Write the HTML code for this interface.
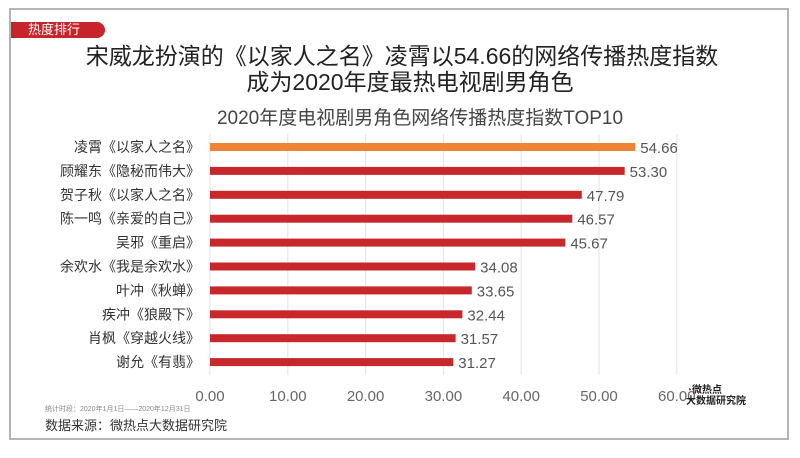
<!DOCTYPE html>
<html><head><meta charset="utf-8">
<style>
body{margin:0;background:#fff;font-family:"Liberation Sans","Noto Sans CJK SC",sans-serif;}
#wrap{position:relative;width:800px;height:458px;overflow:hidden;background:#fff;}
.t{position:absolute;white-space:nowrap;}
</style></head><body>
<div id="wrap">
<div style="position:absolute;left:9px;top:8px;width:780px;height:432px;border:2px solid #b5b5b5;box-sizing:border-box"></div>
<div class="t" style="left:11px;top:22px;width:94px;height:16px;background:#c8242b;border-radius:0 8px 8px 0;color:#fff;font-size:13px;line-height:16px;padding-left:17px;box-sizing:border-box">热度排行</div>
<div class="t" style="left:0;width:800px;text-align:center;top:37px;font-size:23px;color:#222;padding-left:4px;box-sizing:border-box">宋威龙扮演的《以家人之名》凌霄以54.66的网络传播热度指数</div>
<div class="t" style="left:0;width:800px;text-align:center;top:63px;font-size:23px;color:#222;padding-left:20px;box-sizing:border-box">成为2020年度最热电视剧男角色</div>
<div class="t" style="left:0;width:800px;text-align:center;top:103px;font-size:19px;color:#444;padding-left:40px;box-sizing:border-box">2020年度电视剧男角色网络传播热度指数TOP10</div>
<svg id="chart" width="800" height="458" style="position:absolute;left:0;top:0"></svg>
<div class="t" style="left:45px;top:404px;font-size:7px;color:#888">统计时段：2020年1月1日——2020年12月31日</div>
<div class="t" style="left:45px;top:415px;font-size:13px;color:#333">数据来源：微热点大数据研究院</div>
<div class="t" style="left:686px;top:385px;font-size:10px;font-weight:bold;color:#222;line-height:11px"><span style="color:#c8242b">◔</span>微热点<br>大数据研究院</div>
</div>
<script>
const categories=["凌霄《以家人之名》","顾耀东《隐秘而伟大》","贺子秋《以家人之名》","陈一鸣《亲爱的自己》","吴邪《重启》","余欢水《我是余欢水》","叶冲《秋蝉》","疾冲《狼殿下》","肖枫《穿越火线》","谢允《有翡》"];
const values=[54.66,53.30,47.79,46.57,45.67,34.08,33.65,32.44,31.57,31.27];
const ticks=[0,10,20,30,40,50,60];
const svg=document.getElementById('chart');
const NS='http://www.w3.org/2000/svg';
const x0=210,xs=7.78,y0=147,dy=23.9;
const X=v=>x0+v*xs, Y=i=>y0+i*dy;
function mk(t,a){const e=document.createElementNS(NS,t);for(const k in a)e.setAttribute(k,a[k]);svg.appendChild(e);return e;}
ticks.forEach(t=>{
 const g=mk('line',{x1:X(t),x2:X(t),y1:134,y2:375,stroke:'#e3e3e3','stroke-width':1});
 
 
 const l=mk('text',{x:X(t),y:401,'text-anchor':'middle','font-size':15,fill:'#666','font-family':'Liberation Sans, sans-serif'});
 l.textContent=t.toFixed(2);
 
 
});
categories.forEach((c,i)=>{
 const r=mk('rect',{x:X(0),y:Y(i)-4,width:X(values[i])-X(0),height:8,fill:i==0?'#ee8434':'#c8282c'});
 
 
 const l=mk('text',{x:200,y:Y(i)+5,'text-anchor':'end','font-size':14,fill:'#333','font-family':'Liberation Sans, Noto Sans CJK SC, sans-serif'});
 l.textContent=c;
 
 
 const v=mk('text',{x:X(values[i])+5,y:Y(i)+6,'font-size':15,fill:'#555','font-family':'Liberation Sans, sans-serif'});
 v.textContent=values[i].toFixed(2);
 
 
});
</script>
</body></html>
